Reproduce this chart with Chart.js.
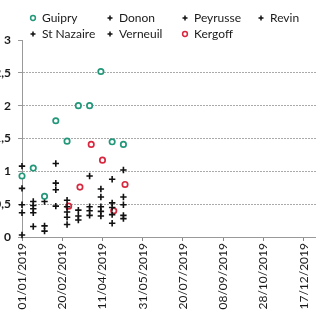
<!DOCTYPE html>
<html>
<head>
<meta charset="utf-8">
<script src="https://cdn.jsdelivr.net/npm/chart.js"></script>
<style>
  html, body { margin: 0; padding: 0; background: #fff; }
  body { width: 316px; height: 311px; overflow: hidden; position: relative; font-family: Lato, sans-serif; }
  #c { position: absolute; left: -10px; top: 0; }
  .lg { position: absolute; font-size: 12px; color: #1a1a1a; white-space: nowrap; line-height: 14px; }
  .lg canvas { position: absolute; left: -13px; top: 3px; }
</style>
</head>
<body>
<canvas id="c" width="350" height="311"></canvas>
<div id="legend"></div>
<script>
// days since 01/01/2019
const days = [0, 14, 28, 42, 56, 70, 84, 98, 112, 126]
const kergoffDays = [58, 72, 86, 100, 114, 128]

const guipry = [0.93, 1.05, 0.62, 1.77, 1.46, 2.00, 2.00, 2.52, 1.45, 1.41]
const donon = [1.08, 0.54, 0.54, 1.12, 0.56, 0.41, 0.93, 0.73, 0.88, 1.02]
const peyrusse = [0.74, 0.48, null, 0.82, 0.46, 0.32, 0.46, 0.61, 0.52, 0.61]
const revin = [0.49, 0.43, null, 0.72, 0.38, null, 0.40, 0.46, 0.45, 0.49]
const stNazaire = [0.37, 0.37, 0.17, 0.47, 0.30, 0.26, 0.33, 0.39, 0.34, 0.33]
const verneuil = [0.03, 0.16, 0.09, null, 0.19, null, null, 0.32, 0.21, 0.28]
const kergoff = [0.47, 0.76, 1.41, 1.17, 0.40, 0.80]

const names = ['Guipry', 'Donon', 'Peyrusse', 'Revin', 'St Nazaire', 'Verneuil', 'Kergoff']

const green = '#23977a'
const red = '#d8283f'

function pts(xs, ys) {
    let out = []
    xs.forEach((d, i) => {
        if (ys[i] !== null) out.push({ x: d, y: ys[i] })
    })
    return out
}

function ring(label, xs, ys, color) {
    return {
        label: label, data: pts(xs, ys), pointStyle: 'circle', pointRadius: 2.7,
        borderColor: color, backgroundColor: '#fff', pointBorderWidth: 1.7, clip: false
    }
}
function cross(label, ys) {
    return {
        label: label, data: pts(days, ys), pointStyle: 'cross', pointRadius: 3.2,
        borderColor: '#111', backgroundColor: '#111', pointBorderWidth: 1.6, clip: false
    }
}

const datasets = [
    ring(names[0], days, guipry, green),
    cross(names[1], donon),
    cross(names[2], peyrusse),
    cross(names[3], revin),
    cross(names[4], stNazaire),
    cross(names[5], verneuil),
    ring(names[6], kergoffDays, kergoff, red)
]

function fmtDate(v) {
    let d = new Date(Date.UTC(2019, 0, 1) + v * 86400000)
    let dd = String(d.getUTCDate()).padStart(2, '0')
    let mm = String(d.getUTCMonth() + 1).padStart(2, '0')
    return dd + '/' + mm + '/' + d.getUTCFullYear()
}

const chart = new Chart(document.getElementById('c'), {
    type: 'scatter',
    data: { datasets: datasets },
    options: {
        responsive: false,
        animation: false,
        layout: { padding: { top: 40, left: 0, right: 0, bottom: 0 } },
        plugins: { legend: { display: false }, tooltip: { enabled: false } },
        scales: {
            x: {
                type: 'linear', min: 0, max: 388,
                afterFit: s => { s.height = 74 },
                grid: { drawOnChartArea: false, tickLength: 4, tickColor: '#888' },
                border: { color: '#999', dash: [2, 1] },
                ticks: {
                    stepSize: 50, includeBounds: false, autoSkip: false,
                    minRotation: 90, maxRotation: 90, padding: 2,
                    color: '#1a1a1a', font: { family: 'Lato', size: 12 },
                    callback: v => fmtDate(v)
                }
            },
            y: {
                min: 0, max: 3,
                afterFit: s => { s.width = 32 },
                grid: {
                    color: ctx => ctx.tick && ctx.tick.value === 3 ? 'rgba(0,0,0,0)' : '#aaa',
                    tickLength: 4, tickColor: '#999'
                },
                border: { color: '#999', dash: [2, 1] },
                ticks: {
                    stepSize: 0.5, padding: 7, color: '#1a1a1a',
                    font: { family: 'Lato', size: 12, weight: 'bold' },
                    callback: v => String(v).replace('.', ',')
                }
            }
        }
    }
})

// legend laid out as a 4-column grid like the original
const colX = [33, 110, 185, 261]
const rowY = [18, 34]
const legend = document.getElementById('legend')
chart.data.datasets.forEach((ds, i) => {
    let item = document.createElement('div')
    item.className = 'lg'
    item.style.left = (colX[i % 4] + 9) + 'px'
    item.style.top = (rowY[Math.floor(i / 4)] - 7) + 'px'
    let m = document.createElement('canvas')
    m.width = 8; m.height = 8
    let g = m.getContext('2d')
    g.strokeStyle = ds.borderColor
    g.lineWidth = 1.5
    g.beginPath()
    if (ds.pointStyle === 'circle') {
        g.arc(4, 4, 2.4, 0, Math.PI * 2)
    } else {
        g.moveTo(4, 1.5); g.lineTo(4, 6.5)
        g.moveTo(1.5, 4); g.lineTo(6.5, 4)
    }
    g.stroke()
    item.appendChild(m)
    item.appendChild(document.createTextNode(ds.label))
    legend.appendChild(item)
})
</script>
</body>
</html>
